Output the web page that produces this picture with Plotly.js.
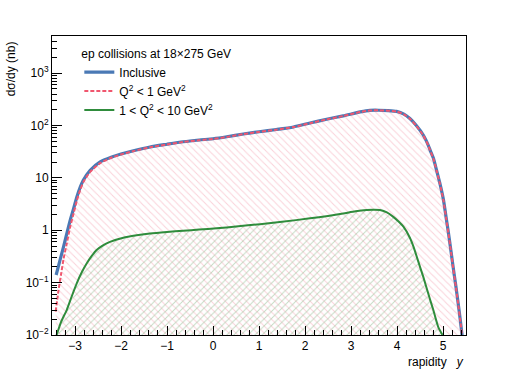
<!DOCTYPE html>
<html>
<head>
<meta charset="utf-8">
<script src="https://cdn.plot.ly/plotly-3.0.1.min.js"></script>
<style>html,body{margin:0;padding:0;background:#fff;}#chart{width:518px;height:374px;}</style>
</head>
<body>
<div id="chart"></div>
<script>
// ---- data ----
const incX = [-3.41,-3.33,-3.25,-3.18,-3.11,-3.03,-2.96,-2.89,-2.82,-2.67,-2.46,-2.2,-2.0,-1.73,-1.37,-1.0,-0.65,-0.3,0.0,0.3,0.66,1.0,1.38,1.75,2.11,2.47,2.83,3.2,3.41,3.6,3.8,3.99,4.15,4.28,4.42,4.57,4.68,4.72,4.79,4.86,4.93,5.01,5.07,5.12,5.17,5.22,5.28,5.33,5.38,5.42];
const incY = [0.14,0.26,0.48,0.85,1.5,2.6,4.3,6.5,9.0,14,20,25,28.5,33,39,44,49,53,56,61,69,76,84,94,112,132,153,182,195,196,193,186,165,136,100,66,42,34,24,14,8,3.8,1.7,0.87,0.42,0.2,0.085,0.04,0.018,0.009];

const lowX = [-3.42,-3.36,-3.3,-3.25,-3.18,-3.11,-3.03,-2.96,-2.89,-2.82,-2.67,-2.46,-2.2,-2.0,-1.73,-1.37,-1.0,-0.65,-0.3,0.0,0.3,0.66,1.0,1.38,1.75,2.11,2.47,2.83,3.2,3.41,3.6,3.8,3.99,4.15,4.28,4.42,4.57,4.68,4.72,4.79,4.86,4.93,5.01,5.07,5.12,5.17,5.22,5.28,5.33,5.38,5.42];
const lowY = [0.028,0.07,0.15,0.28,0.55,1.1,2.1,3.7,5.8,8.3,13,19,24.5,28,32.5,38.5,43.5,48.5,52.5,55.5,60.5,68.5,75.5,83.5,93.5,111,131,152,181,194,195,192,185,164,135,99,65,41.5,33.5,23.5,13.8,7.9,3.7,1.65,0.85,0.41,0.195,0.083,0.039,0.0175,0.0088];

const midX = [-3.40,-3.3,-3.18,-3.07,-2.96,-2.85,-2.75,-2.64,-2.53,-2.4,-2.24,-1.95,-1.66,-1.37,-1.0,-0.65,-0.3,0.08,0.5,1.02,1.5,2.11,2.5,2.83,3.1,3.34,3.5,3.63,3.78,3.92,4.04,4.14,4.28,4.36,4.5,4.57,4.72,4.79,4.9,4.99];
const midY = [0.01,0.018,0.03,0.055,0.098,0.16,0.23,0.32,0.42,0.51,0.6,0.72,0.8,0.87,0.93,0.98,1.03,1.09,1.18,1.31,1.45,1.69,1.88,2.09,2.3,2.43,2.46,2.43,2.2,1.8,1.45,1.17,0.72,0.48,0.2,0.13,0.047,0.03,0.014,0.01];

const seriesNames = ['Inclusive', 'Q<sup>2</sup> < 1 GeV<sup>2</sup>', '1 < Q<sup>2</sup> < 10 GeV<sup>2</sup>'];
const legendHeader = 'ep collisions at 18×275 GeV';
const xRange = [-3.5, 5.5];
const yLogRange = [-2, 3.71];
const yMajorVals = [0.01, 0.1, 1, 10, 100, 1000];
const yMajorText = ['10<sup>−2</sup>', '10<sup>−1</sup>', '1', '10', '10<sup>2</sup>', '10<sup>3</sup>'];

// ---- helpers ----
const base = Math.pow(10, yLogRange[0]);
function closed(xs, ys) {
  return { x: xs.concat([xs[xs.length - 1], xs[0]]), y: ys.concat([base, base]) };
}
const yMinor = [];
for (let e = yLogRange[0]; e < yLogRange[1]; e++) {
  for (let m = 2; m <= 9; m++) {
    const v = m * Math.pow(10, e);
    if (Math.log10(v) <= yLogRange[1]) yMinor.push(v);
  }
}

const FONT = 'Liberation Sans, Arial, Helvetica, sans-serif';
const cBlue = '#4a79b5', cRed = '#f0566e', cGreen = '#2f8c3c';

const lowFill = closed(lowX, lowY);
const midFill = closed(midX, midY);

const traces = [
  { x: lowFill.x, y: lowFill.y, type: 'scatter', mode: 'lines', fill: 'toself', showlegend: false, hoverinfo: 'skip',
    line: { width: 0 }, fillcolor: 'rgba(0,0,0,0)',
    fillpattern: { shape: '\\', fgcolor: 'rgba(245,165,180,0.5)', bgcolor: 'rgba(0,0,0,0)', size: 5, solidity: 0.2 } },
  { x: midFill.x, y: midFill.y, type: 'scatter', mode: 'lines', fill: 'toself', showlegend: false, hoverinfo: 'skip',
    line: { width: 0 }, fillcolor: 'rgba(0,0,0,0)',
    fillpattern: { shape: '/', fgcolor: 'rgba(140,185,140,0.5)', bgcolor: 'rgba(0,0,0,0)', size: 5, solidity: 0.2 } },
  { x: incX, y: incY, type: 'scatter', mode: 'lines', name: seriesNames[0], line: { color: cBlue, width: 3.2, shape: 'spline', smoothing: 0.6 } },
  { x: lowX, y: lowY, type: 'scatter', mode: 'lines', name: seriesNames[1], line: { color: cRed, width: 2, dash: '4px,2px', shape: 'spline', smoothing: 0.6 } },
  { x: midX, y: midY, type: 'scatter', mode: 'lines', name: seriesNames[2], line: { color: cGreen, width: 2, shape: 'spline', smoothing: 0.6 } }
];

const layout = {
  width: 518, height: 374,
  margin: { l: 52, r: 52, t: 36, b: 39 },
  paper_bgcolor: '#fff', plot_bgcolor: '#fff',
  font: { family: FONT, size: 12, color: '#000' },
  showlegend: true,
  legend: {
    x: 0.066, y: 0.98, xanchor: 'left', yanchor: 'top',
    bgcolor: 'rgba(0,0,0,0)', borderwidth: 0,
    font: { family: FONT, size: 12, color: '#000' },
    title: { text: legendHeader, font: { family: FONT, size: 12, color: '#000' } },
    itemwidth: 30, tracegroupgap: 0
  },
  xaxis: {
    range: xRange, showgrid: false, zeroline: false,
    showline: true, linecolor: '#000', linewidth: 1, mirror: true,
    ticks: 'inside', ticklen: 9, tickcolor: '#000', tickwidth: 1,
    tick0: 0, dtick: 1,
    tickfont: { family: FONT, size: 12, color: '#000' },
    minor: { ticks: 'inside', dtick: 0.2, tick0: 0, ticklen: 5, tickcolor: '#000', tickwidth: 1, showgrid: false }
  },
  yaxis: {
    type: 'log', range: yLogRange, showgrid: false, zeroline: false,
    showline: true, linecolor: '#000', linewidth: 1, mirror: true,
    ticks: 'inside', ticklen: 10, tickcolor: '#000', tickwidth: 1,
    tickmode: 'array', tickvals: yMajorVals, ticktext: yMajorText,
    tickfont: { family: FONT, size: 12, color: '#000' },
    minor: { ticks: 'inside', tickmode: 'array', tickvals: yMinor, ticklen: 5, tickcolor: '#000', tickwidth: 1, showgrid: false }
  },
  annotations: [
    { text: 'dσ/dy (nb)', xref: 'paper', yref: 'paper', x: -0.097, y: 0.99, xanchor: 'center', yanchor: 'top',
      textangle: -90, showarrow: false, font: { family: FONT, size: 12, color: '#000' } },
    { text: 'rapidity&nbsp;&nbsp;&nbsp;<i>y</i>', xref: 'paper', yref: 'paper', x: 1.0, y: -0.06, xanchor: 'right', yanchor: 'top',
      showarrow: false, font: { family: FONT, size: 12, color: '#000' } }
  ]
};

Plotly.newPlot('chart', traces, layout, { displayModeBar: false, staticPlot: true });
</script>
</body>
</html>
